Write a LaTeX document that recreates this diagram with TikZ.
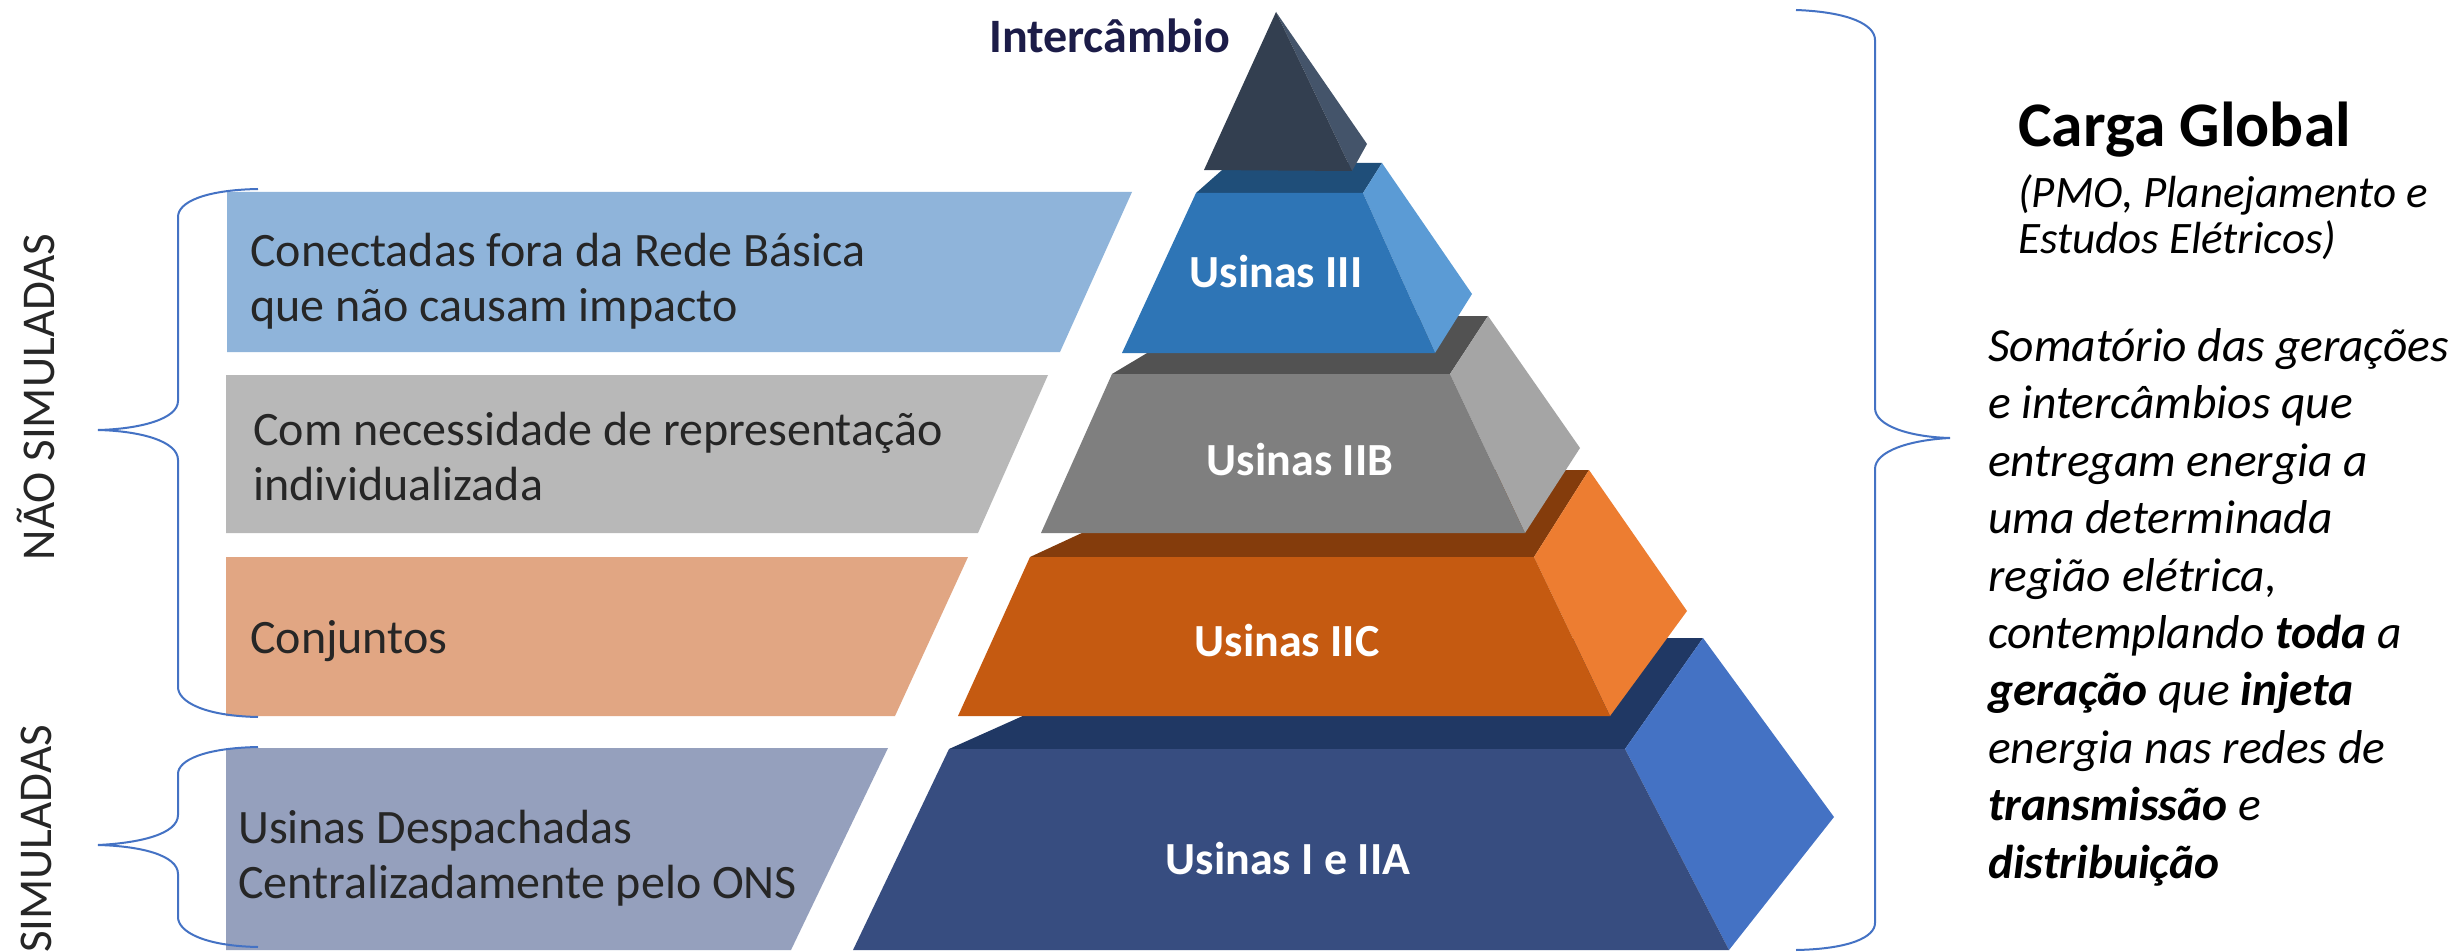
\documentclass[tikz,border=0pt]{standalone}
\usepackage{fontspec}
\setmainfont{Carlito}
\definecolor{apexF}{HTML}{333F50}
\definecolor{apexS}{HTML}{44546A}
\definecolor{aF}{HTML}{2E75B6}
\definecolor{aS}{HTML}{5B9BD5}
\definecolor{aT}{HTML}{1F4E79}
\definecolor{bF}{HTML}{7F7F7F}
\definecolor{bS}{HTML}{A5A5A5}
\definecolor{bT}{HTML}{525252}
\definecolor{cF}{HTML}{C55A11}
\definecolor{cS}{HTML}{ED7D31}
\definecolor{cT}{HTML}{843C0C}
\definecolor{dF}{HTML}{374D80}
\definecolor{dS}{HTML}{4472C4}
\definecolor{dT}{HTML}{203864}
\definecolor{band1}{HTML}{8FB4DA}
\definecolor{band2}{HTML}{B8B8B8}
\definecolor{band3}{HTML}{E1A683}
\definecolor{band4}{HTML}{95A0BD}
\definecolor{txt}{HTML}{262626}
\definecolor{navy}{HTML}{1C1C48}
\definecolor{brc}{HTML}{4472C4}
\begin{document}
\begin{tikzpicture}[x=1pt,y=-1pt,
  bandtext/.style={anchor=base west,inner sep=0pt,align=left,text=txt,
    font=\fontsize{48}{55}\selectfont},
  lvl/.style={inner sep=0pt,text=white,font=\fontsize{46}{50}\selectfont\bfseries},
  sidelabel/.style={inner sep=0pt,rotate=90,text=txt,font=\fontsize{47}{50}\selectfont},
  brace/.style={draw=brc,line width=2pt},
  righttext/.style={anchor=base west,inner sep=0pt,align=left,text=black}]
\useasboundingbox (0,0) rectangle (2461,952);
\fill[white] (0,0) rectangle (2461,952);

% left bands
\fill[band1] (227,192) -- (1132,192) -- (1060,352) -- (227,352) -- cycle;
\fill[band2] (226,375) -- (1048,375) -- (978,533) -- (226,533) -- cycle;
\fill[band3] (226,557) -- (968,557) -- (895,716) -- (226,716) -- cycle;
\fill[band4] (226,748) -- (888,748) -- (791,950) -- (226,950) -- cycle;

% multi-line nodes: base anchor = baseline of the last line
\node[bandtext] (t1) at (250,321) {Conectadas fora da Rede Básica\\que não causam impacto};
\node[bandtext] (t2) at (253,500) {Com necessidade de representação\\individualizada};
\node[bandtext] (t3) at (250,653) {Conjuntos};
\node[bandtext] (t4) at (238,898) {Usinas Despachadas\\Centralizadamente pelo ONS};

% pyramid: bottom level
\fill[dT] (949,749) -- (1197,638) -- (1703,638) -- (1625,749) -- cycle;
\fill[dS] (1625,749) -- (1703,638) -- (1834,817) -- (1729,950) -- cycle;
\fill[dF] (949,749) -- (1625,749) -- (1729,950) -- (853,950) -- cycle;
% level IIC
\fill[cT] (1030,557) -- (1218,470) -- (1589,470) -- (1534,557) -- cycle;
\fill[cS] (1534,557) -- (1589,470) -- (1687,611) -- (1610,716) -- cycle;
\fill[cF] (1030,557) -- (1534,557) -- (1610,716) -- (958,716) -- cycle;
% level IIB
\fill[bT] (1112,374) -- (1209,316) -- (1488,316) -- (1450,374) -- cycle;
\fill[bS] (1450,374) -- (1488,316) -- (1580,448) -- (1525,533) -- cycle;
\fill[bF] (1112,374) -- (1450,374) -- (1525,533) -- (1041,533) -- cycle;
% level III
\fill[aT] (1196,193) -- (1230,163) -- (1382,163) -- (1363,193) -- cycle;
\fill[aS] (1363,193) -- (1382,163) -- (1472,294) -- (1435,353) -- cycle;
\fill[aF] (1196,193) -- (1363,193) -- (1435,353) -- (1122,353) -- cycle;
% apex
\fill[apexS] (1276,12) -- (1367,144) -- (1352,171) -- cycle;
\fill[apexF] (1276,12) -- (1352,171) -- (1204,170) -- cycle;

\node[lvl] (l3) at (1276,272) {Usinas III};
\node[lvl] (l2b) at (1300,460) {Usinas IIB};
\node[lvl] (l2c) at (1287,641) {Usinas IIC};
\node[lvl] (l1) at (1288,859) {Usinas I e IIA};
\node[anchor=base east,inner sep=0pt,text=navy,font=\fontsize{48}{52}\selectfont\bfseries] (ic) at (1230,53) {Intercâmbio};

% left braces
\draw[brace] (258,189) .. controls (205,190) and (178,202) .. (178,217)
  -- (178,401) .. controls (178,419) and (140,429) .. (98,430)
  .. controls (140,431) and (178,441) .. (178,460)
  -- (178,687) .. controls (178,702) and (205,716) .. (258,717);
\draw[brace] (258,747) .. controls (205,748) and (178,760) .. (178,774)
  -- (178,815) .. controls (178,834) and (140,843) .. (98,845)
  .. controls (140,846) and (178,855) .. (178,874)
  -- (178,917) .. controls (178,932) and (205,946) .. (258,947);
\node[sidelabel] (ns) at (36,397) {NÃO SIMULADAS};
\node[sidelabel,anchor=east] (sm) at (36,725) {SIMULADAS};

% right brace
\draw[brace] (1796,10) .. controls (1850,12) and (1875,25) .. (1875,40)
  -- (1875,408) .. controls (1875,426) and (1910,437) .. (1950,438)
  .. controls (1910,440) and (1875,451) .. (1875,469)
  -- (1875,923) .. controls (1875,937) and (1850,949) .. (1796,950);

% right text
\node[righttext,font=\fontsize{63.5}{68}\selectfont\bfseries] (cg) at (2018,147) {Carga Global};
\node[righttext,font=\fontsize{45}{46}\selectfont\itshape] (sub) at (2018,254) {(PMO, Planejamento e\\Estudos Elétricos)};
\node[righttext,font=\fontsize{47.5}{57.4}\selectfont\itshape] (body) at (1988,878)
 {Somatório das gerações\\
  e intercâmbios que\\
  entregam energia a\\
  uma determinada\\
  região elétrica,\\
  contemplando \textbf{toda} a\\
  \textbf{geração} que \textbf{injeta}\\
  energia nas redes de\\
  \textbf{transmissão} e\\
  \textbf{distribuição}};
\end{tikzpicture}
\end{document}
